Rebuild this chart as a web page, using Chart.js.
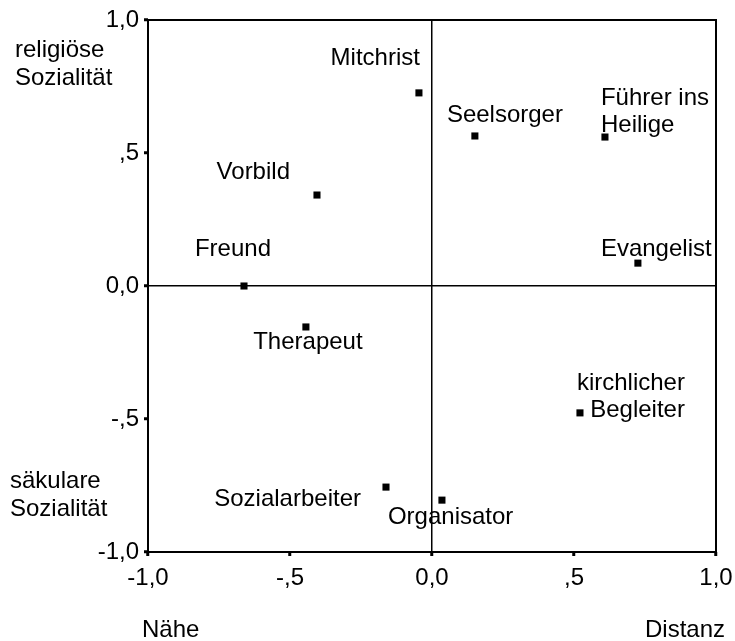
<!DOCTYPE html>
<html>
<head>
<meta charset="utf-8">
<script src="https://cdn.jsdelivr.net/npm/chart.js@4.4.1/dist/chart.umd.min.js"></script>
<style>
html,body{margin:0;padding:0;background:#fff;}
canvas{display:block;}
</style>
</head>
<body>
<canvas id="c" width="735" height="641"></canvas>
<script>
// ---- data ----
const roles = ["Mitchrist", "Seelsorger", "Führer ins\nHeilige", "Vorbild", "Freund", "Evangelist", "Therapeut", "kirchlicher\nBegleiter", "Sozialarbeiter", "Organisator"];
const xValues = [-0.046, 0.151, 0.609, -0.405, -0.662, 0.725, -0.444, 0.521, -0.162, 0.035];
const yValues = [0.726, 0.564, 0.560, 0.342, 0.000, 0.086, -0.154, -0.477, -0.756, -0.805];
const tickValues = [-1, -0.5, 0, 0.5, 1];
const tickLabels = ["-1,0", "-,5", "0,0", ",5", "1,0"];
const xTitleLeft = "Nähe";
const xTitleRight = "Distanz";
const yTitleTop = ["religiöse", "Sozialität"];
const yTitleBottom = ["säkulare", "Sozialität"];

// label placement (pixel offsets from the point, style only)
const labelPlacement = [
  {dx: 1, dy: -28, align: "right"},
  {dx: -28, dy: -14, align: "left"},
  {dx: -4, dy: -32, align: "left"},
  {dx: -27, dy: -16, align: "right"},
  {dx: 27, dy: -30, align: "right"},
  {dx: -37, dy: -7, align: "left"},
  {dx: 2, dy: 22, align: "center"},
  {dx: 105, dy: -23, align: "right"},
  {dx: -25, dy: 19, align: "right"},
  {dx: -54, dy: 24, align: "left"}
];

const FAMILY = "'Liberation Sans', Arial, sans-serif";
const FONT = "24px " + FAMILY;
const points = xValues.map((x, i) => ({x: x, y: yValues[i]}));

const decor = {
  id: "decor",
  afterDatasetsDraw(chart) {
    const ctx = chart.ctx;
    const a = chart.chartArea;
    const xs = chart.scales.x, ys = chart.scales.y;
    ctx.save();
    ctx.strokeStyle = "#000";
    ctx.lineWidth = 2;
    ctx.strokeRect(a.left, a.top, a.right - a.left, a.bottom - a.top);
    ctx.fillStyle = "#000";
    ctx.font = FONT;
    ctx.textBaseline = "alphabetic";
    roles.forEach((name, i) => {
      const px = xs.getPixelForValue(xValues[i]);
      const py = ys.getPixelForValue(yValues[i]);
      const p = labelPlacement[i];
      ctx.textAlign = p.align;
      name.split("\n").forEach((line, k) => {
        ctx.fillText(line, px + p.dx, py + p.dy + k * 27);
      });
    });
    // axis end titles
    ctx.textAlign = "left";
    ctx.fillText(xTitleLeft, a.left - 6, 637);
    ctx.textAlign = "right";
    ctx.fillText(xTitleRight, a.right + 9, 637);
    ctx.textAlign = "left";
    yTitleTop.forEach((t, k) => ctx.fillText(t, 15, 57 + k * 28));
    yTitleBottom.forEach((t, k) => ctx.fillText(t, 10, 488 + k * 28));
    ctx.restore();
  }
};

const gridOpts = {
  color: (c) => (c.tick && c.tick.value === 0) ? "#000" : "rgba(0,0,0,0)",
  lineWidth: 1.5,
  tickColor: "#000",
  tickLength: 4,
  tickWidth: 3,
  drawTicks: true
};

new Chart(document.getElementById("c"), {
  type: "scatter",
  data: {
    datasets: [{
      data: points,
      pointStyle: "rect",
      radius: 5,
      backgroundColor: "#000",
      borderColor: "#000",
      borderWidth: 0
    }]
  },
  options: {
    responsive: false,
    animation: false,
    devicePixelRatio: 1,
    events: [],
    layout: {padding: {top: 20, right: 19, left: 0, bottom: 0}},
    plugins: {legend: {display: false}, tooltip: {enabled: false}},
    scales: {
      x: {
        type: "linear", min: -1, max: 1,
        afterBuildTicks: (s) => { s.ticks = tickValues.map(v => ({value: v})); },
        afterFit: (s) => { s.height = 89; s.paddingLeft = 0; s.paddingRight = 0; },
        ticks: {
          color: "#000", padding: 8, maxRotation: 0,
          font: {family: FAMILY, size: 24},
          callback: (v) => tickLabels[tickValues.indexOf(v)]
        },
        grid: gridOpts,
        border: {display: false}
      },
      y: {
        type: "linear", min: -1, max: 1,
        afterBuildTicks: (s) => { s.ticks = tickValues.map(v => ({value: v})); },
        afterFit: (s) => { s.width = 148; s.paddingTop = 0; s.paddingBottom = 0; },
        ticks: {
          color: "#000", padding: 5,
          font: {family: FAMILY, size: 24},
          callback: (v) => tickLabels[tickValues.indexOf(v)]
        },
        grid: gridOpts,
        border: {display: false}
      }
    }
  },
  plugins: [decor]
});
</script>
</body>
</html>
